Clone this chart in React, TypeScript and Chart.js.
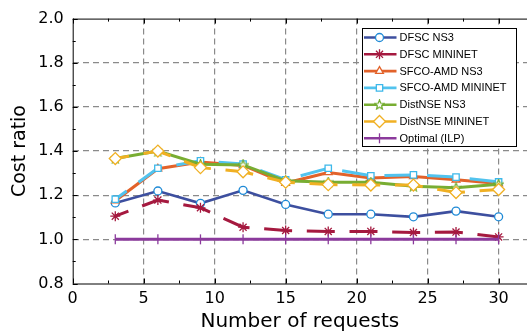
import React, { useEffect, useRef } from "react";
import { Chart, registerables } from "chart.js";
import { drawPoint } from "chart.js/helpers";
Chart.register(...registerables);

const xRequests = [3, 6, 9, 12, 15, 18, 21, 24, 27, 30];
const dfscNs3 = [1.165, 1.219, 1.163, 1.222, 1.158, 1.114, 1.114, 1.102, 1.128, 1.102];
const dfscMininet = [1.105, 1.178, 1.143, 1.055, 1.04, 1.036, 1.036, 1.031, 1.033, 1.011];
const sfcoNs3 = [1.175, 1.32, 1.35, 1.335, 1.255, 1.303, 1.278, 1.285, 1.27, 1.253];
const sfcoMininet = [1.182, 1.322, 1.356, 1.341, 1.27, 1.322, 1.288, 1.292, 1.282, 1.26];
const distNs3 = [1.366, 1.4, 1.34, 1.337, 1.265, 1.259, 1.259, 1.241, 1.234, 1.25];
const distMininet = [1.366, 1.4, 1.325, 1.306, 1.259, 1.248, 1.246, 1.246, 1.212, 1.226];
const optimal = [1, 1, 1, 1, 1, 1, 1, 1, 1, 1];

const xMajorTicks = [0, 5, 10, 15, 20, 25, 30];
const xMinorTicks = [2.5, 7.5, 12.5, 17.5, 22.5, 27.5];
const yMajorTicks = [0.8, 1.0, 1.2, 1.4, 1.6, 1.8, 2.0];
const yMinorTicks = [0.9, 1.1, 1.3, 1.5, 1.7, 1.9];
const xAxisMax = 32;

const seriesNames = [
  "DFSC NS3",
  "DFSC MININET",
  "SFCO-AMD NS3",
  "SFCO-AMD MININET",
  "DistNSE NS3",
  "DistNSE MININET",
  "Optimal (ILP)",
];

function makeStar(color: string): HTMLCanvasElement {
  const c = document.createElement("canvas");
  c.width = 11;
  c.height = 11;
  const g = c.getContext("2d")!;
  g.beginPath();
  for (let i = 0; i < 10; i++) {
    const r = i % 2 === 0 ? 5 : 2.2;
    const a = -Math.PI / 2 + (i * Math.PI) / 5;
    const px = 5.5 + r * Math.cos(a);
    const py = 5.8 + r * Math.sin(a);
    if (i === 0) g.moveTo(px, py);
    else g.lineTo(px, py);
  }
  g.closePath();
  g.fillStyle = "#ffffff";
  g.fill();
  g.strokeStyle = color;
  g.lineWidth = 1.2;
  g.stroke();
  return c;
}

export default function App() {
  const ref = useRef<HTMLCanvasElement | null>(null);

  useEffect(() => {
    document.body.style.margin = "0";
    const canvas = ref.current!;
    const star = makeStar("#6faa2a");
    const dash = [28, 14.7];
    const mk = (vals: number[]) => vals.map((v, i) => ({ x: xRequests[i], y: v }));

    const datasets: any[] = [
      {
        label: seriesNames[0],
        data: mk(dfscNs3),
        borderColor: "#3d4f9f",
        borderWidth: 2.6,
        pointStyle: "circle",
        pointRadius: 4,
        pointBorderColor: "#1f8ad6",
        pointBackgroundColor: "#ffffff",
        pointBorderWidth: 1.3,
      },
      {
        label: seriesNames[1],
        data: mk(dfscMininet),
        borderColor: "#a5193f",
        borderWidth: 3,
        borderDash: dash,
        borderDashOffset: 14,
        pointStyle: "star",
        pointRadius: 5,
        pointBorderColor: "#a5193f",
        pointBackgroundColor: "#a5193f",
        pointBorderWidth: 1.3,
      },
      {
        label: seriesNames[2],
        data: mk(sfcoNs3),
        borderColor: "#e2622a",
        borderWidth: 3,
        pointStyle: "triangle",
        pointRadius: 4.5,
        pointBorderColor: "#e2622a",
        pointBackgroundColor: "#ffffff",
        pointBorderWidth: 1.3,
      },
      {
        label: seriesNames[3],
        data: mk(sfcoMininet),
        borderColor: "#52c3ee",
        borderWidth: 3,
        borderDash: dash,
        borderDashOffset: 14,
        pointStyle: "rect",
        pointRadius: 4.5,
        pointBorderColor: "#3db8ea",
        pointBackgroundColor: "#ffffff",
        pointBorderWidth: 1.3,
      },
      {
        label: seriesNames[4],
        data: mk(distNs3),
        borderColor: "#78ad32",
        borderWidth: 3,
        pointStyle: star,
        pointRadius: 5,
        pointBorderColor: "#6faa2a",
        pointBackgroundColor: "#ffffff",
      },
      {
        label: seriesNames[5],
        data: mk(distMininet),
        borderColor: "#f0b023",
        borderWidth: 3,
        borderDash: dash,
        borderDashOffset: 14,
        pointStyle: "rectRot",
        pointRadius: 6,
        pointBorderColor: "#f0b023",
        pointBackgroundColor: "#ffffff",
        pointBorderWidth: 1.3,
      },
      {
        label: seriesNames[6],
        data: mk(optimal),
        borderColor: "#8b3a9c",
        borderWidth: 3,
        pointStyle: "line",
        pointRotation: 90,
        pointRadius: 5,
        pointBorderColor: "#8b3a9c",
        pointBorderWidth: 1.3,
      },
    ];
    datasets.forEach((d, i) => {
      d.order = 10 - i;
      d.fill = false;
      d.tension = 0;
      d.pointHoverRadius = d.pointRadius;
      d.clip = false;
    });

    const framePlugin = {
      id: "frame",
      afterDraw(chart: any) {
        const ctx = chart.ctx as CanvasRenderingContext2D;
        const a = chart.chartArea;
        const xs = chart.scales.x;
        const ys = chart.scales.y;
        ctx.save();
        ctx.strokeStyle = "#000";
        ctx.lineWidth = 1;
        ctx.beginPath();
        ctx.moveTo(a.left + 0.5, a.top + 0.5);
        ctx.lineTo(a.right, a.top + 0.5);
        ctx.moveTo(a.left + 0.5, a.top);
        ctx.lineTo(a.left + 0.5, a.bottom + 0.5);
        ctx.lineTo(a.right, a.bottom + 0.5);
        xMajorTicks.forEach((v) => {
          const px = Math.round(xs.getPixelForValue(v)) + 0.5;
          ctx.moveTo(px, a.bottom);
          ctx.lineTo(px, a.bottom - 5);
          ctx.moveTo(px, a.top);
          ctx.lineTo(px, a.top + 5);
        });
        xMinorTicks.forEach((v) => {
          const px = Math.round(xs.getPixelForValue(v)) + 0.5;
          ctx.moveTo(px, a.bottom);
          ctx.lineTo(px, a.bottom - 3);
          ctx.moveTo(px, a.top);
          ctx.lineTo(px, a.top + 3);
        });
        yMajorTicks.forEach((v) => {
          const py = Math.round(ys.getPixelForValue(v)) + 0.5;
          ctx.moveTo(a.left, py);
          ctx.lineTo(a.left + 5, py);
        });
        yMinorTicks.forEach((v) => {
          const py = Math.round(ys.getPixelForValue(v)) + 0.5;
          ctx.moveTo(a.left, py);
          ctx.lineTo(a.left + 3, py);
        });
        ctx.stroke();

        // legend
        const bx = 362.5;
        const by = 28.5;
        const bw = 154;
        const bh = 118;
        ctx.fillStyle = "#fff";
        ctx.fillRect(bx, by, bw, bh);
        ctx.strokeStyle = "#000";
        ctx.lineWidth = 1;
        ctx.strokeRect(bx, by, bw, bh);
        ctx.font = '11px "Liberation Sans", Arial, sans-serif';
        ctx.textBaseline = "middle";
        ctx.textAlign = "left";
        chart.data.datasets.forEach((d: any, i: number) => {
          const cy = 37.5 + i * 16.8;
          ctx.save();
          ctx.strokeStyle = d.borderColor;
          ctx.lineWidth = 2.6;
          ctx.setLineDash([]);
          ctx.beginPath();
          ctx.moveTo(364, cy);
          ctx.lineTo(396.5, cy);
          ctx.stroke();
          ctx.restore();
          ctx.save();
          ctx.lineWidth = d.pointBorderWidth || 1.3;
          ctx.strokeStyle = d.pointBorderColor;
          ctx.fillStyle = d.pointBackgroundColor || "#fff";
          drawPoint(
            ctx,
            {
              pointStyle: d.pointStyle,
              radius: d.pointRadius,
              rotation: d.pointRotation || 0,
              borderWidth: d.pointBorderWidth || 1.3,
            } as any,
            379.5,
            cy
          );
          ctx.restore();
          ctx.fillStyle = "#000";
          ctx.fillText(d.label, 399.5, cy + 0.5);
        });
        ctx.restore();
      },
    };

    const chart = new Chart(canvas, {
      type: "line",
      data: { datasets },
      options: {
        animation: false,
        responsive: false,
        maintainAspectRatio: false,
        devicePixelRatio: 1,
        layout: { autoPadding: false, padding: { top: 11, right: 0, left: 0, bottom: 0 } },
        plugins: { legend: { display: false }, tooltip: { enabled: false } },
        scales: {
          x: {
            type: "linear",
            min: 0,
            max: xAxisMax,
            afterBuildTicks: (s: any) => {
              s.ticks = [...xMajorTicks, xAxisMax].map((v) => ({ value: v }));
            },
            afterFit: (s: any) => {
              s.height = 52.5;
              s.paddingRight = 0;
            },
            grid: {
              drawTicks: false,
              color: (c: any) =>
                c.tick && c.tick.value > 0 && c.tick.value <= 30 ? "#8a8a8a" : "rgba(0,0,0,0)",
              lineWidth: 1.2,
            },
            border: { display: false, dash: [6, 4] },
            ticks: {
              font: { family: "DejaVu Sans", size: 16 },
              color: "#000",
              padding: 6,
              maxRotation: 0,
              autoSkip: false,
              callback: (v: any) => (xMajorTicks.includes(Number(v)) ? String(v) : ""),
            },
            title: {
              display: true,
              text: "Number of requests",
              font: { family: "DejaVu Sans", size: 20 },
              color: "#000",
              padding: { top: 0, bottom: 2 },
            },
          },
          y: {
            type: "linear",
            min: 0.8,
            max: 2.0,
            afterBuildTicks: (s: any) => {
              s.ticks = yMajorTicks.map((v) => ({ value: v }));
            },
            afterFit: (s: any) => {
              s.width = 72.7;
            },
            grid: {
              drawTicks: false,
              color: (c: any) =>
                c.tick && c.tick.value > 0.85 && c.tick.value < 1.95 ? "#8a8a8a" : "rgba(0,0,0,0)",
              lineWidth: 1.2,
            },
            border: { display: false, dash: [6, 4] },
            ticks: {
              font: { family: "DejaVu Sans", size: 16 },
              color: "#000",
              padding: 9,
              callback: (v: any) => Number(v).toFixed(1),
            },
            title: {
              display: true,
              text: "Cost ratio",
              font: { family: "DejaVu Sans", size: 19 },
              color: "#000",
              padding: { top: 9, bottom: 0 },
            },
          },
        },
      } as any,
      plugins: [framePlugin],
    });

    return () => {
      chart.destroy();
    };
  }, []);

  return (
    <div style={{ width: 527, height: 336, position: "relative" }}>
      <canvas ref={ref} width={527} height={336} style={{ width: 527, height: 336, display: "block" }} />
    </div>
  );
}
